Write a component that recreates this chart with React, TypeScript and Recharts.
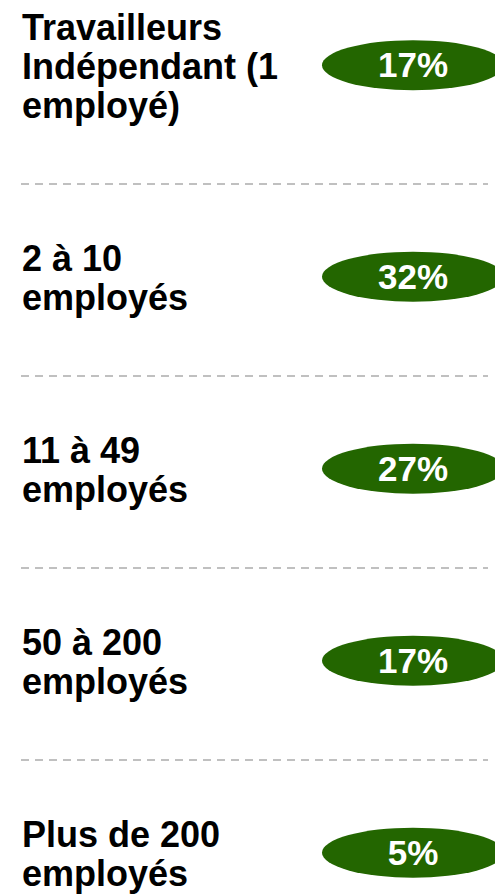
import React from 'react';
import { BarChart, Bar, XAxis, YAxis } from 'recharts';

const categories = [
  'Travailleurs Indépendant (1 employé)',
  '2 à 10 employés',
  '11 à 49 employés',
  '50 à 200 employés',
  'Plus de 200 employés',
];
const labelLines = [
  ['Travailleurs', 'Indépendant (1', 'employé)'],
  ['2 à 10', 'employés'],
  ['11 à 49', 'employés'],
  ['50 à 200', 'employés'],
  ['Plus de 200', 'employés'],
];
const shares = [17, 32, 27, 17, 5];

const WIDTH = 495;
const HEIGHT = 886;
const MARGIN = { top: -16, right: 0, bottom: -58, left: 0 };
const STEP = (HEIGHT - MARGIN.top - MARGIN.bottom) / categories.length;
const FONT = '"Liberation Sans", Arial, sans-serif';
const LABEL_SIZE = 36;
const LINE_H = 39;
const GREEN = '#236600';

// labels sit on a common last baseline; the pill is centred on the label block
const lastBaseline = (bandCenter: number) => bandCenter + 30;
const pillCenter = (bandCenter: number, index: number) =>
  lastBaseline(bandCenter) - ((labelLines[index].length - 1) * LINE_H) / 2 - 14;

const data = categories.map((name, i) => ({ name, value: shares[i] }));

function LabelTick(props: any) {
  const { y, index } = props;
  const lines = labelLines[index] || [props.payload.value];
  const last = lastBaseline(y);
  const first = last - (lines.length - 1) * LINE_H;
  return (
    <g>
      {lines.map((t: string, i: number) => (
        <text
          key={i}
          x={14}
          y={first + i * LINE_H}
          fontFamily={FONT}
          fontSize={LABEL_SIZE}
          fontWeight="bold"
          fill="#000"
        >
          {t}
        </text>
      ))}
      {index < categories.length - 1 && (
        <line
          x1={13}
          x2={480}
          y1={y + STEP / 2}
          y2={y + STEP / 2}
          stroke="#c0c0c0"
          strokeWidth={2}
          strokeDasharray="8 6"
        />
      )}
    </g>
  );
}

function Pill(props: any) {
  const { x, y, height, index, value } = props;
  const c = pillCenter(y + height / 2, index);
  const cx = x + 105;
  return (
    <g>
      <ellipse cx={cx} cy={c} rx={91} ry={25} fill={GREEN} />
      <text
        x={cx}
        y={c + 12}
        textAnchor="middle"
        fontFamily={FONT}
        fontSize={35}
        fontWeight="bold"
        fill="#fff"
      >
        {`${Array.isArray(value) ? value[1] : value}%`}
      </text>
    </g>
  );
}

export default function App() {
  return (
    <BarChart
      width={WIDTH}
      height={HEIGHT}
      data={data}
      layout="vertical"
      margin={MARGIN}
      style={{ overflow: 'hidden' }}
    >
      <XAxis type="number" domain={[0, 100]} hide />
      <YAxis
        type="category"
        dataKey="name"
        width={300}
        axisLine={false}
        tickLine={false}
        tick={<LabelTick />}
        interval={0}
      />
      <Bar dataKey="value" shape={<Pill />} isAnimationActive={false} />
    </BarChart>
  );
}
